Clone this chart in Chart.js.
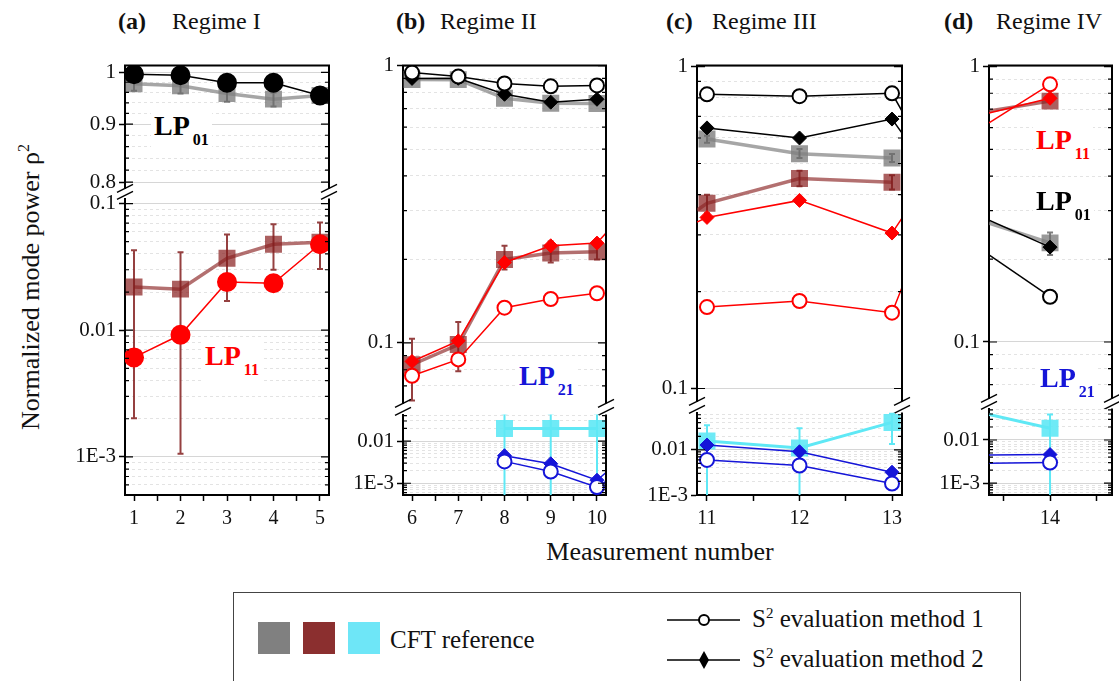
<!DOCTYPE html>
<html>
<head>
<meta charset="utf-8">
<script src="https://cdn.jsdelivr.net/npm/chart.js@4.4.0/dist/chart.umd.min.js"></script>
<style>
body { margin: 0; background: #fff; width: 1119px; height: 681px; position: relative; overflow: hidden; font-family: "Liberation Serif", "Times New Roman", serif; }
canvas { position: absolute; }
.t { position: absolute; white-space: nowrap; color: #111; line-height: 1; }
.b { font-weight: bold; }
.lp { position: absolute; white-space: nowrap; font-weight: bold; font-size: 28px; line-height: 1; background: #fff; padding: 2px 3px 4px 3px; }
.lp sub { font-size: 16px; vertical-align: -10px; margin-left: 3px; }
.sw { position: absolute; width: 32px; height: 32px; top: 622px; }
</style>
</head>
<body>

<div class="t b" style="left:118px;top:9px;font-size:24px">(a)</div>
<div class="t" style="left:172px;top:9px;font-size:24px">Regime I</div>
<div class="t b" style="left:396px;top:9px;font-size:24px">(b)</div>
<div class="t" style="left:440px;top:9px;font-size:24px">Regime II</div>
<div class="t b" style="left:666px;top:9px;font-size:24px">(c)</div>
<div class="t" style="left:712px;top:9px;font-size:24px">Regime III</div>
<div class="t b" style="left:944px;top:9px;font-size:24px">(d)</div>
<div class="t" style="left:996px;top:9px;font-size:24px">Regime IV</div>

<div class="t" style="left:30px;top:287px;font-size:26px;transform:translate(-50%,-50%) rotate(-90deg)">Normalized mode power ρ<sup style="font-size:16px">2</sup></div>
<div class="t" style="left:660px;top:539px;font-size:26px;transform:translateX(-50%)">Measurement number</div>

<div id="labels"></div>

<div style="position:absolute;left:233px;top:592px;width:786px;height:90px;border:1px solid #444"></div>
<div class="sw" style="left:258px;background:#808080"></div>
<div class="sw" style="left:303px;background:#8b2f2f"></div>
<div class="sw" style="left:348px;background:#6ee6f7"></div>
<div class="t" style="left:390px;top:627px;font-size:25px">CFT reference</div>
<svg style="position:absolute;left:660px;top:600px" width="90" height="80">
  <line x1="7" y1="20" x2="80" y2="20" stroke="#000" stroke-width="1.5"/>
  <circle cx="44" cy="20" r="5" fill="#fff" stroke="#000" stroke-width="2"/>
  <line x1="7" y1="60" x2="80" y2="60" stroke="#000" stroke-width="1.5"/>
  <polygon points="44,51 49,60 44,69 39,60" fill="#000"/>
</svg>
<div class="t" style="left:752px;top:606px;font-size:25px">S<sup style="font-size:15px">2</sup> evaluation method 1</div>
<div class="t" style="left:752px;top:646px;font-size:25px">S<sup style="font-size:15px">2</sup> evaluation method 2</div>

<script>
// (a) Regime I
const aX = [1, 2, 3, 4, 5];
const aCft01 = [0.977, 0.973, 0.958, 0.947, 0.954];
const aCft01Lo = [0.963, 0.958, 0.942, 0.933, 0.943];
const aCft01Hi = [0.990, 0.988, 0.972, 0.960, 0.965];
const aM1_01 = [0.996, 0.994, 0.979, 0.979, 0.954];
const aCft11 = [0.0219, 0.0211, 0.037, 0.0477, 0.0495];
const aCft11Lo = [0.00202, 0.00106, 0.017, 0.030, 0.0304];
const aCft11Hi = [0.0428, 0.0413, 0.057, 0.0685, 0.071];
const aM1_11 = [0.0061, 0.0092, 0.024, 0.0235, 0.0477];

// (b) Regime II
const bX = [6, 7, 8, 9, 10];
const bCft01 = [0.891, 0.89, 0.762, 0.732, 0.73];
const bM1_01 = [0.944, 0.913, 0.862, 0.842, 0.848];
const bM2_01 = [0.899, 0.90, 0.788, 0.738, 0.756];
const bCft11 = [0.0834, 0.0986, 0.2, 0.211, 0.213];
const bCft11Lo = [0.062, 0.079, 0.184, 0.195, 0.2];
const bCft11Hi = [0.1035, 0.119, 0.224, 0.232, 0.236];
const bM1_11 = [0.0761, 0.0872, 0.134, 0.144, 0.151];
const bM2_11 = [0.0857, 0.1017, 0.195, 0.224, 0.229];
const bCft21 = [null, null, 0.02, 0.02, 0.02];
const bCft21Lo = [null, null, 1e-4, 1e-4, 1e-4];
const bCft21Hi = [null, null, 0.045, 0.045, 0.045];
const bM1_21 = [null, null, 0.0033, 0.0019, 0.00081];
const bM2_21 = [null, null, 0.0045, 0.0029, 0.00118];
const bExit = [0.249, 0.0011, 0.0018]; // LP11 m2, LP21 m1, LP21 m2 leaving right edge

// (c) Regime III
const cX = [11, 12, 13];
const cCft01 = [0.596, 0.536, 0.52];
const cCft01Lo = [0.58, 0.52, 0.505];
const cCft01Hi = [0.61, 0.555, 0.535];
const cM1_01 = [0.82, 0.809, 0.826];
const cM2_01 = [0.645, 0.60, 0.687];
const cCft11 = [0.376, 0.449, 0.437];
const cCft11Lo = [0.35, 0.425, 0.415];
const cCft11Hi = [0.40, 0.475, 0.46];
const cM1_11 = [0.179, 0.187, 0.172];
const cM2_11 = [0.34, 0.384, 0.304];
const cCft21 = [0.0157, 0.011, 0.0406];
const cCft21Lo = [1e-4, 1e-4, 0.0135];
const cCft21Hi = [0.035, 0.03, 0.064];
const cM1_21 = [0.006, 0.0045, 0.0018];
const cM2_21 = [0.0128, 0.0091, 0.0032];
const cEntry = [0.358, 0.329]; // LP11 CFT, LP11 m2 at left edge
const cExit = [0.727, 0.622, 0.206, 0.338]; // LP01 m1, m2, LP11 m1, m2 at right edge

// (d) Regime IV
const dX = [14];
const dCft11 = [0.749];
const dM1_11 = [0.862];
const dM2_11 = [0.767];
const dCft01 = [0.229];
const dCft01Lo = [0.207];
const dCft01Hi = [0.25];
const dM1_01 = [0.146];
const dM2_01 = [0.221];
const dCft21 = [0.0187];
const dCft21Lo = [1e-4];
const dCft21Hi = [0.039];
const dM1_21 = [0.003];
const dM2_21 = [0.0046];
const dEntry11 = [0.69, 0.624, 0.678]; // CFT, m1, m2 at left edge
const dEntry01 = [0.27, 0.207, 0.277];
const dEntry21 = [0.039, 0.0029, 0.0045];

// ticks and labelled (major) ticks
const aTopTicks = [0.8, 0.82, 0.84, 0.86, 0.88, 0.9, 0.92, 0.94, 0.96, 0.98, 1];
const aTopMajor = [0.8, 0.9, 1];
const logMajor = [0.001, 0.01, 0.1, 1];

// mode labels inside the panels
const modeNames = ['01', '11', '21', '11', '01', '21'];
const modeColors = ['#000', '#f00', '#1515d8', '#f00', '#000', '#1515d8'];
const modePos = [[151, 110], [202, 340], [516, 360], [1033, 124], [1033, 185], [1037, 362]];

const F = '"Liberation Serif", "Times New Roman", serif';
const Y_W = 62, PAD_T = 14, PAD_R = 14, PAD_B = 14, X_H = 40;

const STY = {
    cft01: { line: 'rgba(128,128,128,0.7)', pt: 'rgba(128,128,128,0.8)', lw: 3.5, shape: 'rect', r: 12, pbw: 0, err: 'rgba(110,110,110,0.9)', order: 5 },
    cft11: { line: 'rgba(139,35,35,0.65)', pt: 'rgba(139,35,35,0.72)', lw: 3.5, shape: 'rect', r: 12, pbw: 0, err: 'rgba(130,30,30,0.85)', order: 5 },
    cft21: { line: 'rgb(95,232,245)', pt: 'rgba(95,232,245,0.9)', lw: 3, shape: 'rect', r: 12, pbw: 0, err: 'rgb(95,232,245)', order: 5 },
    m1_01: { line: '#000', lw: 1.5, shape: 'circle', r: 7, pbw: 2, fill: '#fff', order: 1 },
    m2_01: { line: '#000', lw: 1.5, shape: 'rectRot', r: 7, pbw: 1, fill: '#000', order: 2 },
    m1_11: { line: '#f00', lw: 1.5, shape: 'circle', r: 7, pbw: 2, fill: '#fff', order: 1 },
    m2_11: { line: '#f00', lw: 1.5, shape: 'rectRot', r: 7, pbw: 1, fill: '#f00', order: 2 },
    m1_21: { line: '#1515d8', lw: 1.5, shape: 'circle', r: 7, pbw: 2, fill: '#fff', order: 1 },
    m2_21: { line: '#1515d8', lw: 1.5, shape: 'rectRot', r: 7, pbw: 1, fill: '#1515d8', order: 2 }
};

const panels = [
    { px: [125, 329], xr: [0.806, 5.194],
      top: { py: [64, 190], yr: [0.792, 1.0137], ticks: aTopTicks, major: aTopMajor },
      bot: { py: [197, 495], yr: [5.0e-4, 0.1094] },
      series: [
          { seg: 'top', key: 'cft01', xs: aX, ys: aCft01, lo: aCft01Lo, hi: aCft01Hi },
          { seg: 'top', key: 'm1_01', xs: aX, ys: aM1_01, filled: true },
          { seg: 'bot', key: 'cft11', xs: aX, ys: aCft11, lo: aCft11Lo, hi: aCft11Hi },
          { seg: 'bot', key: 'm1_11', xs: aX, ys: aM1_11, filled: true }
      ] },
    { px: [403, 606], xr: [5.805, 10.195],
      top: { py: [64, 405], yr: [0.0605, 1] },
      bot: { py: [413, 495], yr: [5.26e-4, 0.0425] },
      series: [
          { seg: 'top', key: 'cft01', xs: bX, ys: bCft01 },
          { seg: 'top', key: 'm1_01', xs: bX, ys: bM1_01 },
          { seg: 'top', key: 'm2_01', xs: bX, ys: bM2_01 },
          { seg: 'top', key: 'cft11', xs: bX, ys: bCft11, lo: bCft11Lo, hi: bCft11Hi },
          { seg: 'top', key: 'm1_11', xs: bX, ys: bM1_11 },
          { seg: 'top', key: 'm2_11', xs: bX, ys: bM2_11, exit: bExit[0] },
          { seg: 'bot', key: 'cft21', xs: bX, ys: bCft21, lo: bCft21Lo, hi: bCft21Hi },
          { seg: 'bot', key: 'm1_21', xs: bX, ys: bM1_21, exit: bExit[1] },
          { seg: 'bot', key: 'm2_21', xs: bX, ys: bM2_21, exit: bExit[2] }
      ] },
    { px: [697, 902], xr: [10.892, 13.108],
      top: { py: [64, 403], yr: [0.0912, 1.007] },
      bot: { py: [411, 495], yr: [0.001, 0.067] },
      series: [
          { seg: 'top', key: 'cft01', xs: cX, ys: cCft01, lo: cCft01Lo, hi: cCft01Hi },
          { seg: 'top', key: 'm1_01', xs: cX, ys: cM1_01, exit: cExit[0] },
          { seg: 'top', key: 'm2_01', xs: cX, ys: cM2_01, exit: cExit[1] },
          { seg: 'top', key: 'cft11', xs: cX, ys: cCft11, lo: cCft11Lo, hi: cCft11Hi, entry: cEntry[0] },
          { seg: 'top', key: 'm1_11', xs: cX, ys: cM1_11, exit: cExit[2] },
          { seg: 'top', key: 'm2_11', xs: cX, ys: cM2_11, entry: cEntry[1], exit: cExit[3] },
          { seg: 'bot', key: 'cft21', xs: cX, ys: cCft21, lo: cCft21Lo, hi: cCft21Hi },
          { seg: 'bot', key: 'm1_21', xs: cX, ys: cM1_21 },
          { seg: 'bot', key: 'm2_21', xs: cX, ys: cM2_21 }
      ] },
    { px: [989, 1112], xr: [13.34, 14.67],
      top: { py: [64, 400], yr: [0.0624, 1.008] },
      bot: { py: [407, 495], yr: [5.33e-4, 0.0533] },
      series: [
          { seg: 'top', key: 'cft11', xs: dX, ys: dCft11, entry: dEntry11[0] },
          { seg: 'top', key: 'm1_11', xs: dX, ys: dM1_11, entry: dEntry11[1] },
          { seg: 'top', key: 'm2_11', xs: dX, ys: dM2_11, entry: dEntry11[2] },
          { seg: 'top', key: 'cft01', xs: dX, ys: dCft01, lo: dCft01Lo, hi: dCft01Hi, entry: dEntry01[0] },
          { seg: 'top', key: 'm1_01', xs: dX, ys: dM1_01, entry: dEntry01[1] },
          { seg: 'top', key: 'm2_01', xs: dX, ys: dM2_01, entry: dEntry01[2] },
          { seg: 'bot', key: 'cft21', xs: dX, ys: dCft21, lo: dCft21Lo, hi: dCft21Hi, entry: dEntry21[0] },
          { seg: 'bot', key: 'm1_21', xs: dX, ys: dM1_21, entry: dEntry21[1] },
          { seg: 'bot', key: 'm2_21', xs: dX, ys: dM2_21, entry: dEntry21[2] }
      ] }
];

function tickLabel(v) {
    return v === 0.001 ? '1E-3' : String(v);
}

// 1..9 x 10^n inside the range
function logTicks(min, max) {
    const out = [];
    for (let e = Math.floor(Math.log10(min)); e <= Math.ceil(Math.log10(max)); e++) {
        for (let k = 1; k <= 9; k++) {
            const v = parseFloat((k * Math.pow(10, e)).toPrecision(3));
            if (v >= min * 0.9999 && v <= max * 1.0001) out.push(v);
        }
    }
    return out;
}

function halfTicks(xr) {
    const out = [];
    for (let v = Math.ceil(xr[0] * 2) / 2; v <= xr[1]; v += 0.5) out.push(v);
    return out;
}

// vertical error bars, drawn right after their own dataset
const errorBars = {
    id: 'errorBars',
    afterDatasetDraw(chart, args) {
        const ds = chart.data.datasets[args.index];
        if (!ds.errColor) return;
        const { ctx, chartArea: a } = chart;
        const x = chart.scales.x, y = chart.scales.y;
        ctx.save();
        ctx.beginPath();
        ctx.rect(a.left, a.top, a.width, a.height);
        ctx.clip();
        ctx.strokeStyle = ds.errColor;
        ctx.lineWidth = 2;
        ds.data.forEach(p => {
            if (p.lo == null || p.hi == null) return;
            const px = x.getPixelForValue(p.x);
            const y1 = y.getPixelForValue(p.lo), y2 = y.getPixelForValue(p.hi);
            ctx.beginPath();
            ctx.moveTo(px, y1); ctx.lineTo(px, y2);
            ctx.moveTo(px - 3, y1); ctx.lineTo(px + 3, y1);
            ctx.moveTo(px - 3, y2); ctx.lineTo(px + 3, y2);
            ctx.stroke();
        });
        ctx.restore();
    }
};

// right/top frame, inward ticks and axis break marks
const frame = {
    id: 'frame',
    afterDraw(chart, args, o) {
        const { ctx, chartArea: a } = chart;
        const y = chart.scales.y;
        ctx.save();
        ctx.strokeStyle = '#000';
        ctx.lineWidth = 2;
        ctx.beginPath();
        ctx.moveTo(a.right, a.top); ctx.lineTo(a.right, a.bottom);
        if (o.top) { ctx.moveTo(a.left - 1, a.top); ctx.lineTo(a.right + 1, a.top); }
        ctx.stroke();
        ctx.lineWidth = 1.2;
        ctx.beginPath();
        y.ticks.forEach(t => {
            const py = y.getPixelForValue(t.value);
            const len = o.major.includes(t.value) ? 8 : 4;
            ctx.moveTo(a.left, py); ctx.lineTo(a.left + len, py);
            ctx.moveTo(a.right, py); ctx.lineTo(a.right - len, py);
        });
        ctx.stroke();
        if (o.gap) {
            ctx.lineWidth = 1.5;
            [a.left, a.right].forEach(x => {
                [a.bottom, a.bottom + o.gap].forEach(yb => {
                    ctx.beginPath();
                    ctx.moveTo(x - 8, yb + 4);
                    ctx.lineTo(x + 8, yb - 4);
                    ctx.stroke();
                });
            });
        }
        ctx.restore();
    }
};

function makeDataset(s, p) {
    const st = STY[s.key];
    const data = [];
    if (s.entry != null) data.push({ x: p.xr[0], y: s.entry, edge: true });
    s.xs.forEach((x, i) => {
        if (s.ys[i] == null) return;
        data.push({ x: x, y: s.ys[i], lo: s.lo ? s.lo[i] : null, hi: s.hi ? s.hi[i] : null });
    });
    if (s.exit != null) data.push({ x: p.xr[1], y: s.exit, edge: true });
    const r = s.filled ? 9 : st.r;
    return {
        data: data,
        borderColor: st.line,
        borderWidth: st.lw,
        pointStyle: st.shape,
        pointRadius: c => (c.raw && c.raw.edge) ? 0 : r,
        pointBackgroundColor: st.pt ? st.pt : (s.filled ? st.line : st.fill),
        pointBorderColor: st.pt ? st.pt : st.line,
        pointBorderWidth: st.pbw,
        errColor: st.err,
        order: st.order,
        tension: 0,
        fill: false
    };
}

function buildChart(p, segName) {
    const seg = p[segName];
    const lower = segName === 'bot';
    const plotW = p.px[1] - p.px[0];
    const plotH = seg.py[1] - seg.py[0];
    const cv = document.createElement('canvas');
    cv.width = Y_W + plotW + PAD_R;
    cv.height = PAD_T + plotH + (lower ? X_H : PAD_B);
    cv.style.left = (p.px[0] - Y_W) + 'px';
    cv.style.top = (seg.py[0] - PAD_T) + 'px';
    document.body.insertBefore(cv, document.getElementById('labels'));

    const yTicks = seg.ticks || logTicks(seg.yr[0], seg.yr[1]);
    const major = seg.major || logMajor;
    const isMajor = v => major.includes(v);
    const datasets = p.series.filter(s => s.seg === segName).map(s => makeDataset(s, p));

    new Chart(cv, {
        type: 'line',
        data: { datasets: datasets },
        options: {
            responsive: false,
            animation: false,
            events: [],
            layout: { padding: { left: 0, top: PAD_T, right: PAD_R, bottom: lower ? 0 : PAD_B } },
            plugins: {
                legend: { display: false },
                tooltip: { enabled: false },
                frame: { top: !lower, gap: lower ? 0 : p.bot.py[0] - p.top.py[1], major: major }
            },
            scales: {
                x: {
                    type: 'linear', min: p.xr[0], max: p.xr[1], display: lower,
                    afterBuildTicks: s => { s.ticks = halfTicks(p.xr).map(v => ({ value: v })); },
                    afterFit: s => { s.height = lower ? X_H : 0; },
                    ticks: { autoSkip: false, maxRotation: 0, padding: 6, color: '#111', font: { family: F, size: 20 },
                             callback: v => Number.isInteger(v) ? String(v) : '' },
                    grid: { drawOnChartArea: false, drawTicks: true, tickLength: 6, tickColor: '#000', tickWidth: 1.5 },
                    border: { color: '#000', width: 2 }
                },
                y: {
                    type: 'logarithmic', min: seg.yr[0], max: seg.yr[1],
                    afterBuildTicks: s => { s.ticks = yTicks.map(v => ({ value: v })); },
                    afterFit: s => { s.width = Y_W; },
                    ticks: { autoSkip: false, padding: 3, color: '#111', font: { family: F, size: 21 },
                             callback: v => isMajor(v) ? tickLabel(v) : '' },
                    grid: {
                        color: c => (c.tick && isMajor(c.tick.value)) ? '#d6d6d6' : '#e3e3e3',
                        lineWidth: 1,
                        drawTicks: true, tickLength: 6, tickWidth: 1.5,
                        tickColor: c => (c.tick && isMajor(c.tick.value)) ? '#000' : 'rgba(0,0,0,0)'
                    },
                    border: { color: '#000', width: 2, dash: c => (c.tick && !isMajor(c.tick.value)) ? [3, 3] : [] }
                }
            }
        },
        plugins: [errorBars, frame]
    });
}

panels.forEach(p => {
    buildChart(p, 'top');
    buildChart(p, 'bot');
});

// LP mode labels on top of the charts
const holder = document.getElementById('labels');
modeNames.forEach((m, i) => {
    const el = document.createElement('div');
    el.className = 'lp';
    el.style.left = modePos[i][0] + 'px';
    el.style.top = modePos[i][1] + 'px';
    el.style.color = modeColors[i];
    el.innerHTML = 'LP<sub>' + m + '</sub>';
    holder.appendChild(el);
});
</script>
</body>
</html>
